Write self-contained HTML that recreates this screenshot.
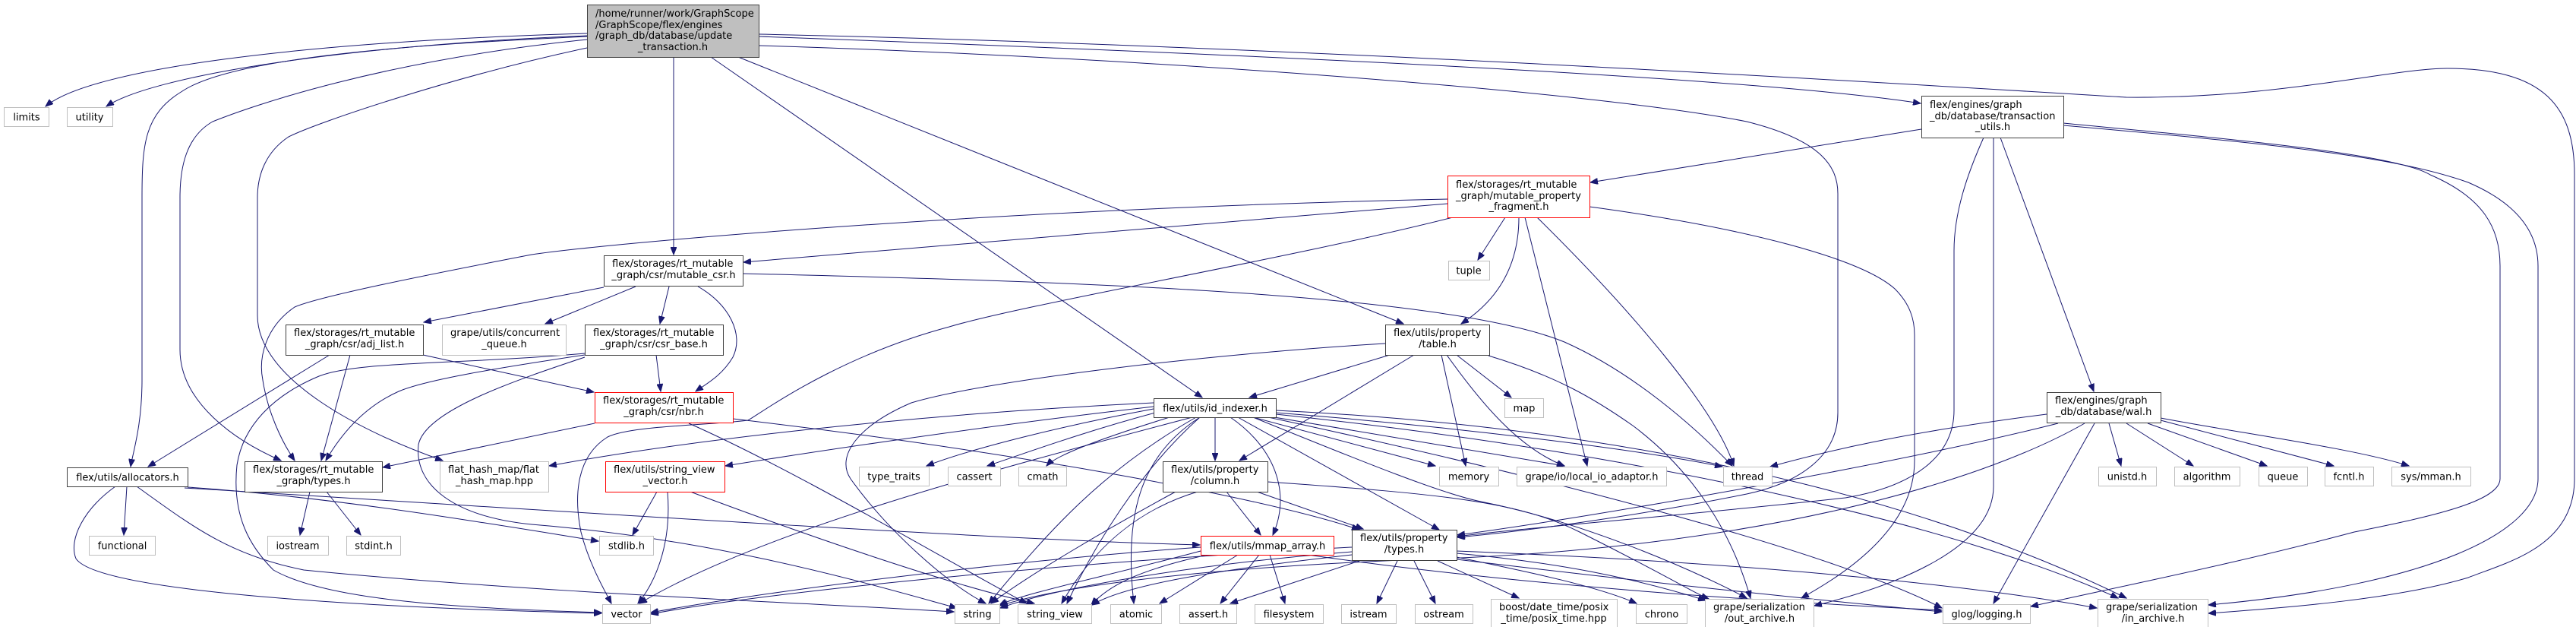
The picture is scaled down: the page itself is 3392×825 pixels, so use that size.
<!DOCTYPE html>
<html><head><meta charset="utf-8"><style>
html,body{margin:0;padding:0;background:#fff;}
svg{display:block;}
text{font-family:"DejaVu Sans","Liberation Sans",sans-serif;font-size:13px;fill:#000;}
.e{fill:none;stroke:#191970;stroke-width:1;marker-end:url(#a);}
.g{fill:#fff;stroke:#bfbfbf;}
.b{fill:#fff;stroke:#404040;}
.r{fill:#fff;stroke:#ff0000;}
</style></head><body>
<svg width="3392" height="825" viewBox="0 0 3392 825" xmlns="http://www.w3.org/2000/svg">
<defs><marker id="a" markerUnits="userSpaceOnUse" markerWidth="11" markerHeight="8" refX="10" refY="4" orient="auto"><path d="M0,0 L10,4 L0,8 z" fill="#191970" stroke="#191970"/></marker></defs>
<g>
<path class="e" d="M773,44 C400,55 120,90 60,140"/>
<path class="e" d="M773,47 C450,60 200,100 140,140"/>
<path class="e" d="M773,48 C500,60 300,80 240,120 C190,150 187,190 187,260 L187,500 C187,560 175,595 172,614"/>
<path class="e" d="M773,52 C500,80 330,140 280,160 C245,180 237,220 237,260 L237,460 C237,530 310,580 370,606"/>
<path class="e" d="M773,63 C600,100 420,160 380,180 C350,200 339,230 339,260 L339,415 C339,500 480,570 583,606"/>
<path class="e" d="M887,75 L887,335"/>
<path class="e" d="M936,75 L1583,523"/>
<path class="e" d="M972,75 L1848,426"/>
<path class="e" d="M1000,48 C1600,70 2300,100 2529,136"/>
<path class="e" d="M1000,45 C1700,60 2500,110 2800,128 C3000,130 3150,90 3222,90 C3350,90 3390,140 3390,230 L3390,630 C3390,720 3300,740 3250,760 C3150,790 3000,800 2908,807"/>
<path class="e" d="M1000,60 C1500,75 2100,120 2300,160 C2400,185 2420,220 2420,255 L2420,543 C2420,600 2370,635 2300,650 C2150,680 2000,700 1919,707"/>
<path class="e" d="M2093,272 C2300,300 2450,340 2495,380 C2515,400 2521,420 2521,441 L2521,606 C2521,700 2420,760 2372,787"/>
<path class="e" d="M2530,170 L2094,240"/>
<path class="e" d="M1906,268 L979,345"/>
<path class="e" d="M1906,262 C1300,275 800,320 700,335 C560,362 420,390 388,404 C350,430 340,470 346,500 C352,540 370,580 388,606"/>
<path class="e" d="M1913,286 C1700,340 1350,400 1250,430 C1100,470 1000,545 985,553 C930,560 830,560 800,575 C760,600 755,650 765,700 C775,740 795,775 805,794"/>
<path class="e" d="M1982,286 L1946,342"/>
<path class="e" d="M2000,286 C2000,340 1980,390 1924,426"/>
<path class="e" d="M2008,286 L2090,613"/>
<path class="e" d="M2024,286 C2150,410 2260,540 2283,613"/>
<path class="e" d="M795,378 L558,424"/>
<path class="e" d="M837,377 L718,426"/>
<path class="e" d="M881,377 L869,426"/>
<path class="e" d="M919,377 C960,400 980,440 965,470 C950,495 930,505 916,515"/>
<path class="e" d="M978,360 C1400,370 1900,385 2060,450 C2150,490 2230,560 2281,613"/>
<path class="e" d="M434,467 L195,614"/>
<path class="e" d="M461,467 L423,606"/>
<path class="e" d="M557,467 L782,516"/>
<path class="e" d="M864,467 L870,515"/>
<path class="e" d="M770,467 C650,485 560,500 525,515 C480,535 450,570 429,606"/>
<path class="e" d="M770,465 C600,480 470,475 420,495 C360,520 320,560 312,612 C305,680 330,720 360,750 C430,790 600,800 792,806"/>
<path class="e" d="M770,470 C680,500 560,540 551,585 C545,640 600,680 700,690 C950,710 1150,770 1260,800"/>
<path class="e" d="M783,557 L504,615"/>
<path class="e" d="M907,557 C1050,620 1250,740 1352,794"/>
<path class="e" d="M965,551 C1300,590 1650,650 1790,697"/>
<path class="e" d="M167,640 L163,704"/>
<path class="e" d="M152,640 C110,670 90,710 100,735 C130,780 500,800 792,807"/>
<path class="e" d="M180,640 C250,690 300,730 400,750 C700,780 1100,795 1256,805"/>
<path class="e" d="M243,642 C700,670 1300,710 1580,717"/>
<path class="e" d="M247,641 C450,655 650,690 788,712"/>
<path class="e" d="M408,647 L395,704"/>
<path class="e" d="M430,647 L475,704"/>
<path class="e" d="M865,647 L833,704"/>
<path class="e" d="M879,647 C885,720 860,770 840,794"/>
<path class="e" d="M909,647 C1050,700 1250,770 1362,794"/>
<path class="e" d="M1519,530 C1200,545 900,580 723,613"/>
<path class="e" d="M1519,535 C1300,560 1100,590 955,613"/>
<path class="e" d="M1519,538 C1400,560 1280,590 1220,613"/>
<path class="e" d="M1525,542 C1420,570 1340,600 1300,613"/>
<path class="e" d="M1540,549 C1440,580 1390,600 1378,613"/>
<path class="e" d="M1600,549 L1600,606"/>
<path class="e" d="M1620,549 C1680,590 1700,650 1676,704"/>
<path class="e" d="M1630,549 L1895,697"/>
<path class="e" d="M1650,549 L1890,613"/>
<path class="e" d="M1660,546 L2060,613"/>
<path class="e" d="M1680,543 C1900,560 2150,590 2268,614"/>
<path class="e" d="M1680,540 C2100,560 2500,640 2800,787"/>
<path class="e" d="M1650,549 C1800,610 1900,650 1950,660 C2100,690 2250,760 2300,787"/>
<path class="e" d="M1670,549 C2000,620 2400,720 2557,800"/>
<path class="e" d="M1570,549 C1300,620 1000,700 842,794"/>
<path class="e" d="M1575,549 C1450,620 1380,700 1302,794"/>
<path class="e" d="M1580,549 C1500,620 1440,720 1405,794"/>
<path class="e" d="M1580,549 C1500,600 1480,680 1493,794"/>
<path class="e" d="M1830,467 L1645,523"/>
<path class="e" d="M1862,467 L1632,606"/>
<path class="e" d="M1898,467 L1930,613"/>
<path class="e" d="M1918,467 L1990,523"/>
<path class="e" d="M1905,467 C1950,530 2000,590 2060,613"/>
<path class="e" d="M1824,452 C1600,465 1300,500 1200,530 C1130,560 1100,600 1120,630 C1170,700 1250,770 1298,794"/>
<path class="e" d="M1960,468 C2050,495 2100,525 2150,560 C2230,620 2280,700 2305,787"/>
<path class="e" d="M1615,647 L1660,704"/>
<path class="e" d="M1655,647 L1795,696"/>
<path class="e" d="M1577,647 C1500,670 1440,720 1398,794"/>
<path class="e" d="M1548,647 C1450,700 1350,760 1305,794"/>
<path class="e" d="M1669,634 C1900,650 2000,660 2080,700 C2200,760 2230,780 2250,788"/>
<path class="e" d="M1590,730 C1500,750 1460,770 1437,796"/>
<path class="e" d="M1630,730 L1527,794"/>
<path class="e" d="M1658,730 L1607,794"/>
<path class="e" d="M1672,730 L1692,794"/>
<path class="e" d="M1581,725 C1450,760 1350,780 1316,796"/>
<path class="e" d="M1581,720 C1300,740 1000,780 857,806"/>
<path class="e" d="M1722,730 C2000,770 2300,790 2557,803"/>
<path class="e" d="M1840,738 L1813,794"/>
<path class="e" d="M1862,738 L1890,794"/>
<path class="e" d="M1893,738 L2000,787"/>
<path class="e" d="M1918,733 C2000,750 2100,770 2155,794"/>
<path class="e" d="M1918,728 C2050,740 2150,760 2246,790"/>
<path class="e" d="M1918,725 C2300,740 2600,770 2761,800"/>
<path class="e" d="M1790,738 L1620,794"/>
<path class="e" d="M1780,726 C1600,740 1400,770 1317,800"/>
<path class="e" d="M1780,730 C1600,750 1480,770 1438,796"/>
<path class="e" d="M1780,720 C1400,740 1000,780 857,808"/>
<path class="e" d="M1918,736 C2200,770 2400,790 2557,805"/>
<path class="e" d="M2612,181 C2590,230 2573,280 2573,330 L2573,540 C2573,600 2520,640 2430,655 C2200,680 2000,695 1919,706"/>
<path class="e" d="M2625,181 L2625,640 C2625,720 2500,770 2389,797"/>
<path class="e" d="M2634,181 L2757,515"/>
<path class="e" d="M2717,162 C2900,180 3150,200 3200,230 C3270,260 3292,300 3292,350 L3292,630 C3292,660 3200,680 3100,700 C2950,740 2800,770 2674,798"/>
<path class="e" d="M2717,165 C3000,190 3150,205 3250,240 C3320,270 3342,310 3342,350 L3342,630 C3342,700 3200,770 2908,796"/>
<path class="e" d="M2695,545 C2500,570 2400,595 2331,614"/>
<path class="e" d="M2710,557 C2500,610 2100,680 1919,704"/>
<path class="e" d="M2745,557 C2600,640 2300,720 1900,735 C1600,745 1400,770 1317,797"/>
<path class="e" d="M2758,557 L2625,794"/>
<path class="e" d="M2777,557 L2793,613"/>
<path class="e" d="M2800,557 L2888,613"/>
<path class="e" d="M2828,557 L2985,613"/>
<path class="e" d="M2845,553 L3073,613"/>
<path class="e" d="M2845,550 C2950,570 3100,590 3172,613"/>
<path class="e" d="M1680,545 C2200,600 2600,700 2789,787"/>
</g>
<g>
<!-- main -->
<rect x="773.5" y="6.5" width="226" height="69" fill="#bfbfbf" stroke="#404040"/>
<text x="784" y="22">/home/runner/work/GraphScope</text>
<text x="784" y="37">/GraphScope/flex/engines</text>
<text x="784" y="51">/graph_db/database/update</text>
<text x="886" y="66" text-anchor="middle">_transaction.h</text>

<!-- gray single-line -->
<rect class="g" x="5.5" y="141.5" width="59" height="25"/><text x="35" y="158.5" text-anchor="middle">limits</text>
<rect class="g" x="88.5" y="141.5" width="60" height="25"/><text x="118" y="158.5" text-anchor="middle">utility</text>
<rect class="g" x="117.5" y="705.5" width="87" height="25"/><text x="161" y="722.5" text-anchor="middle">functional</text>
<rect class="g" x="352.5" y="705.5" width="80" height="25"/><text x="392" y="722.5" text-anchor="middle">iostream</text>
<rect class="g" x="456.5" y="705.5" width="71" height="25"/><text x="492" y="722.5" text-anchor="middle">stdint.h</text>
<rect class="g" x="789.5" y="705.5" width="71" height="25"/><text x="825" y="722.5" text-anchor="middle">stdlib.h</text>
<rect class="g" x="793.5" y="795.5" width="63" height="25"/><text x="825" y="812.5" text-anchor="middle">vector</text>
<rect class="g" x="1257.5" y="795.5" width="59" height="25"/><text x="1287" y="812.5" text-anchor="middle">string</text>
<rect class="g" x="1340.5" y="795.5" width="97" height="25"/><text x="1389" y="812.5" text-anchor="middle">string_view</text>
<rect class="g" x="1131.5" y="614.5" width="92" height="25"/><text x="1177" y="631.5" text-anchor="middle">type_traits</text>
<rect class="g" x="1248.5" y="614.5" width="69" height="25"/><text x="1283" y="631.5" text-anchor="middle">cassert</text>
<rect class="g" x="1341.5" y="614.5" width="63" height="25"/><text x="1373" y="631.5" text-anchor="middle">cmath</text>
<rect class="g" x="1907.5" y="343.5" width="54" height="25"/><text x="1934" y="360.5" text-anchor="middle">tuple</text>
<rect class="g" x="1981.5" y="524.5" width="51" height="25"/><text x="2007" y="541.5" text-anchor="middle">map</text>
<rect class="g" x="1895.5" y="614.5" width="78" height="25"/><text x="1934" y="631.5" text-anchor="middle">memory</text>
<rect class="g" x="1997.5" y="614.5" width="197" height="25"/><text x="2096" y="631.5" text-anchor="middle">grape/io/local_io_adaptor.h</text>
<rect class="g" x="2269.5" y="614.5" width="64" height="25"/><text x="2301" y="631.5" text-anchor="middle">thread</text>
<rect class="g" x="2763.5" y="614.5" width="76" height="25"/><text x="2801" y="631.5" text-anchor="middle">unistd.h</text>
<rect class="g" x="2863.5" y="614.5" width="86" height="25"/><text x="2906" y="631.5" text-anchor="middle">algorithm</text>
<rect class="g" x="2974.5" y="614.5" width="64" height="25"/><text x="3006" y="631.5" text-anchor="middle">queue</text>
<rect class="g" x="3061.5" y="614.5" width="64" height="25"/><text x="3093" y="631.5" text-anchor="middle">fcntl.h</text>
<rect class="g" x="3149.5" y="614.5" width="104" height="25"/><text x="3201" y="631.5" text-anchor="middle">sys/mman.h</text>
<rect class="g" x="1462.5" y="795.5" width="67" height="25"/><text x="1496" y="812.5" text-anchor="middle">atomic</text>
<rect class="g" x="1553.5" y="795.5" width="75" height="25"/><text x="1591" y="812.5" text-anchor="middle">assert.h</text>
<rect class="g" x="1652.5" y="795.5" width="90" height="25"/><text x="1697" y="812.5" text-anchor="middle">filesystem</text>
<rect class="g" x="1766.5" y="795.5" width="72" height="25"/><text x="1802" y="812.5" text-anchor="middle">istream</text>
<rect class="g" x="1863.5" y="795.5" width="76" height="25"/><text x="1901" y="812.5" text-anchor="middle">ostream</text>
<rect class="g" x="2154.5" y="795.5" width="67" height="25"/><text x="2188" y="812.5" text-anchor="middle">chrono</text>
<rect class="g" x="2558.5" y="795.5" width="115" height="25"/><text x="2616" y="812.5" text-anchor="middle">glog/logging.h</text>

<!-- gray two-line -->
<rect class="g" x="582.5" y="427.5" width="163" height="40"/><text x="593" y="442">grape/utils/concurrent</text><text x="664" y="457" text-anchor="middle">_queue.h</text>
<rect class="g" x="579.5" y="607.5" width="143" height="40"/><text x="590" y="622">flat_hash_map/flat</text><text x="651" y="637" text-anchor="middle">_hash_map.hpp</text>
<rect class="g" x="1963.5" y="788.5" width="166" height="40"/><text x="1974" y="803">boost/date_time/posix</text><text x="2046" y="818" text-anchor="middle">_time/posix_time.hpp</text>
<rect class="g" x="2245.5" y="788.5" width="143" height="40"/><text x="2256" y="803">grape/serialization</text><text x="2317" y="818" text-anchor="middle">/out_archive.h</text>
<rect class="g" x="2762.5" y="788.5" width="145" height="40"/><text x="2773" y="803">grape/serialization</text><text x="2835" y="818" text-anchor="middle">/in_archive.h</text>

<!-- black -->
<rect class="b" x="376.5" y="427.5" width="181" height="40"/><text x="387" y="442">flex/storages/rt_mutable</text><text x="467" y="457" text-anchor="middle">_graph/csr/adj_list.h</text>
<rect class="b" x="795.5" y="336.5" width="183" height="40"/><text x="806" y="351">flex/storages/rt_mutable</text><text x="887" y="366" text-anchor="middle">_graph/csr/mutable_csr.h</text>
<rect class="b" x="770.5" y="427.5" width="182" height="40"/><text x="781" y="442">flex/storages/rt_mutable</text><text x="861" y="457" text-anchor="middle">_graph/csr/csr_base.h</text>
<rect class="b" x="322.5" y="607.5" width="181" height="40"/><text x="333" y="622">flex/storages/rt_mutable</text><text x="413" y="637" text-anchor="middle">_graph/types.h</text>
<rect class="b" x="1824.5" y="427.5" width="137" height="40"/><text x="1835" y="442">flex/utils/property</text><text x="1893" y="457" text-anchor="middle">/table.h</text>
<rect class="b" x="1531.5" y="607.5" width="138" height="40"/><text x="1542" y="622">flex/utils/property</text><text x="1600" y="637" text-anchor="middle">/column.h</text>
<rect class="b" x="1780.5" y="697.5" width="138" height="40"/><text x="1791" y="712">flex/utils/property</text><text x="1849" y="727" text-anchor="middle">/types.h</text>
<rect class="b" x="2695.5" y="516.5" width="150" height="40"/><text x="2706" y="531">flex/engines/graph</text><text x="2770" y="546" text-anchor="middle">_db/database/wal.h</text>
<rect class="b" x="88.5" y="615.5" width="159" height="25"/><text x="168" y="632.5" text-anchor="middle">flex/utils/allocators.h</text>
<rect class="b" x="1519.5" y="524.5" width="161" height="25"/><text x="1600" y="541.5" text-anchor="middle">flex/utils/id_indexer.h</text>
<rect class="b" x="2530.5" y="126.5" width="187" height="55"/><text x="2541" y="142">flex/engines/graph</text><text x="2541" y="157">_db/database/transaction</text><text x="2624" y="171" text-anchor="middle">_utils.h</text>

<!-- red -->
<rect class="r" x="783.5" y="516.5" width="182" height="40"/><text x="794" y="531">flex/storages/rt_mutable</text><text x="874" y="546" text-anchor="middle">_graph/csr/nbr.h</text>
<rect class="r" x="797.5" y="607.5" width="157" height="40"/><text x="808" y="622">flex/utils/string_view</text><text x="876" y="637" text-anchor="middle">_vector.h</text>
<rect class="r" x="1581.5" y="705.5" width="175" height="25"/><text x="1669" y="722.5" text-anchor="middle">flex/utils/mmap_array.h</text>
<rect class="r" x="1906.5" y="231.5" width="187" height="55"/><text x="1917" y="247">flex/storages/rt_mutable</text><text x="1917" y="262">_graph/mutable_property</text><text x="2000" y="276" text-anchor="middle">_fragment.h</text>
</g>
</svg>
</body></html>
